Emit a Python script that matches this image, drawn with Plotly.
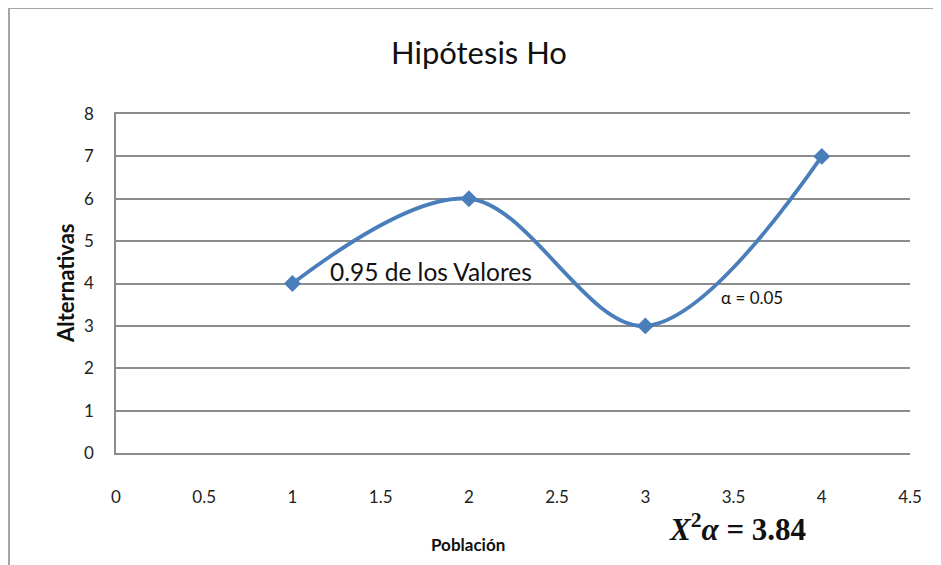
import plotly.graph_objects as go

poblacion = [1, 2, 3, 4]
alternativas = [4, 6, 3, 7]
x_ticks = [0, 0.5, 1, 1.5, 2, 2.5, 3, 3.5, 4, 4.5]
y_ticks = [0, 1, 2, 3, 4, 5, 6, 7, 8]

W, H = 941, 565
OFF = 8  # page body margin
L, R, T, B = 108, 39, 106, 120
pw, ph = W - L - R, H - T - B

def px(xp):
    return (xp - OFF - L) / pw

def py(yp):
    return (H - B - (yp - OFF)) / ph

fig = go.Figure()
fig.add_trace(go.Scatter(
    x=poblacion, y=alternativas, mode="lines+markers",
    line=dict(color="#4A7EBB", width=3.8, shape="spline", smoothing=1.0),
    marker=dict(symbol="diamond", size=13, color="#4A7EBB"),
    showlegend=False, hoverinfo="skip",
))

font = "Lato, sans-serif"
grid = "#8c8c8c"

def ann(text, x, y, size, angle=0, fam=font):
    return dict(text=text, xref="paper", yref="paper", x=px(x), y=py(y),
                xanchor="center", yanchor="middle", textangle=angle,
                showarrow=False, font=dict(size=size, color="#111", family=fam))

fig.update_layout(
    width=W, height=H,
    margin=dict(l=L, r=R, t=T, b=B),
    paper_bgcolor="white", plot_bgcolor="white",
    font=dict(family=font, color="#222"),
    xaxis=dict(range=[0, 4.5], tickvals=x_ticks, ticktext=[f"{v:g}" for v in x_ticks],
               showgrid=False, zeroline=False, showline=True, mirror=True,
               linecolor=grid, linewidth=1.5, ticks="",
               ticklabelstandoff=28, tickfont=dict(size=17, color="#222")),
    yaxis=dict(range=[0, 8], tickvals=y_ticks, showgrid=True, gridcolor=grid, gridwidth=1.5,
               zeroline=False, showline=True, linecolor=grid, linewidth=1.5, ticks="",
               ticklabelstandoff=17, tickfont=dict(size=17, color="#222")),
    shapes=[
        dict(type="line", xref="paper", yref="paper", x0=px(9), x1=px(9), y0=py(8), y1=py(H + 20),
             line=dict(color="#a6a6a6", width=2)),
        dict(type="line", xref="paper", yref="paper", x0=px(9), x1=px(W + 20), y0=py(8), y1=py(8),
             line=dict(color="#a6a6a6", width=2)),
    ],
    annotations=[
        ann("Hipótesis Ho", 479, 52, 31),
        ann("<b>Alternativas</b>", 65, 283, 22, angle=-90),
        ann("<b>Población</b>", 468, 544, 17),
        ann("0.95 de los Valores", 431, 271, 24.5),
        ann("α = 0.05", 752, 297, 17),
        ann("<b><i>X</i></b><sup><b>2</b></sup><b><i>α</i> = 3.84</b>", 737, 527, 31,
            fam="'Liberation Serif', 'DejaVu Serif', serif"),
    ],
)

fig.write_html("out.html")
